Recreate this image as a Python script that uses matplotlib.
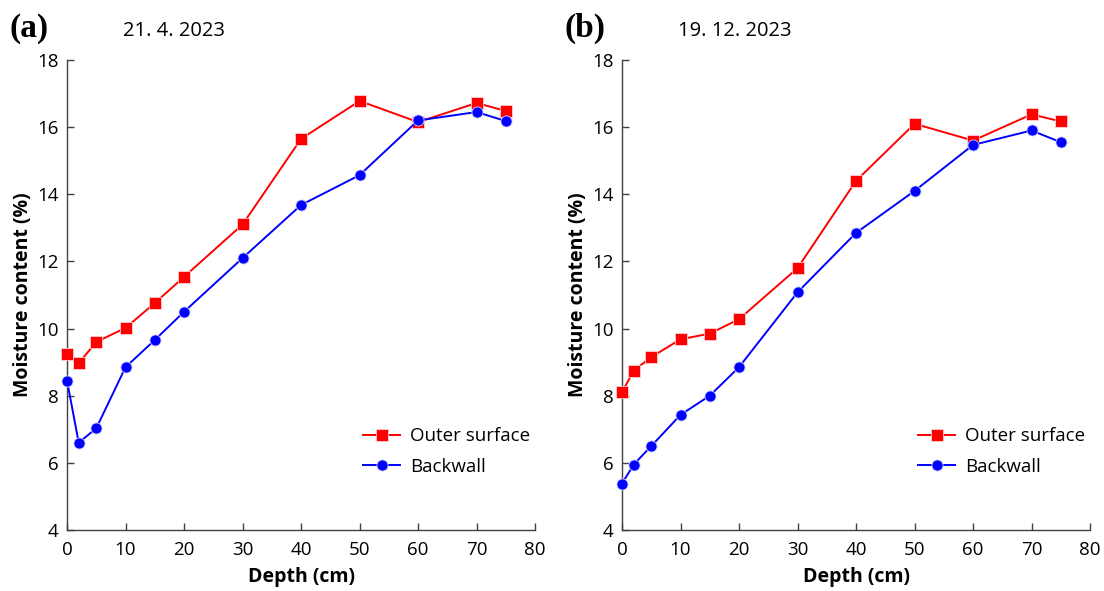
import matplotlib
matplotlib.use("Agg")
from matplotlib import pyplot as plt

depth = [0, 2, 5, 10, 15, 20, 30, 40, 50, 60, 70, 75]

outer_a = [9.25, 8.97, 9.6, 10.02, 10.76, 11.54, 13.1, 15.65, 16.78, 16.15, 16.72, 16.48]
back_a = [8.45, 6.6, 7.03, 8.85, 9.66, 10.5, 12.1, 13.68, 14.57, 16.2, 16.45, 16.18]

outer_b = [8.1, 8.75, 9.15, 9.68, 9.85, 10.28, 11.8, 14.4, 16.1, 15.6, 16.38, 16.17]
back_b = [5.38, 5.95, 6.5, 7.43, 8.0, 8.85, 11.08, 12.85, 14.1, 15.47, 15.9, 15.55]

panels = ["(a)", "(b)"]
dates = ["21. 4. 2023", "19. 12. 2023"]
series = [(outer_a, back_a), (outer_b, back_b)]

plt.rcParams['font.family'] = ['Open Sans', 'DejaVu Sans']

fig = plt.figure(figsize=(11.04, 5.91), dpi=100)
lefts = [0.0607, 0.5634]
spine_col = "#404040"

for i in range(2):
    ax = fig.add_axes([lefts[i], 0.1032, 0.424, 0.7953])
    outer, back = series[i]
    ax.plot(depth, outer, color="red", marker="s", markersize=8, markeredgecolor="#ffd0d0",
            markeredgewidth=0.6, linewidth=1.4, label="Outer surface", clip_on=False, zorder=3)
    ax.plot(depth, back, color="blue", marker="o", markersize=8, markeredgecolor="#d0d0ff",
            markeredgewidth=0.6, linewidth=1.4, label="Backwall", clip_on=False, zorder=3)
    ax.set_xlim(0, 80)
    ax.set_ylim(4, 18)
    ax.set_xticks(range(0, 81, 10))
    ax.set_yticks(range(4, 19, 2))
    ax.spines['top'].set_visible(False)
    ax.spines['right'].set_visible(False)
    for s in ['left', 'bottom']:
        ax.spines[s].set_color(spine_col)
        ax.spines[s].set_linewidth(1.0)
    ax.tick_params(direction="in", length=5, width=1.0, color=spine_col, labelsize=13.5)
    ax.tick_params(axis="x", pad=8)
    ax.tick_params(axis="y", pad=6)
    ax.set_xlabel("Depth (cm)", fontsize=14, fontweight="bold", labelpad=6)
    ax.set_ylabel("Moisture content (%)", fontsize=14, fontweight="bold", labelpad=3)
    ax.legend(loc="lower right", bbox_to_anchor=(1.025, 0.08), frameon=False, fontsize=13.5,
              handlelength=2.0, handletextpad=0.5, labelspacing=0.65)
    ax.text(-0.123, 1.035, panels[i], transform=ax.transAxes, fontsize=24, fontweight="bold",
            family="Liberation Serif", va="bottom", ha="left")
    ax.text(0.12, 1.04, dates[i], transform=ax.transAxes, fontsize=14.5, va="bottom", ha="left")

fig.savefig("out.png", dpi=100)
